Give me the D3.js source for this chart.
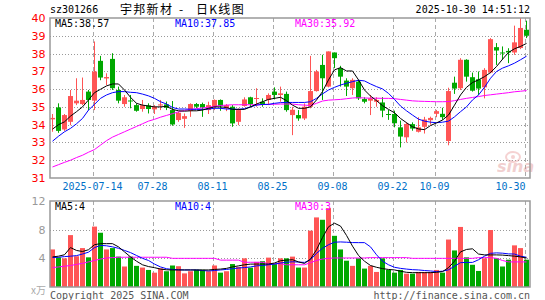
<!DOCTYPE html>
<html>
<head>
<meta charset="utf-8">
<script src="https://cdn.jsdelivr.net/npm/d3@7/dist/d3.min.js"></script>
<style>
  html, body { margin: 0; padding: 0; background: #fff; }
  svg { display: block; }
</style>
</head>
<body>
<div id="chart"></div>
<script>
'use strict';

// ─── Daily bars (2025-07-03 … 2025-10-30) ────────────────────────────────────
const OPEN  = [34.30, 34.97, 33.73, 34.16, 35.20, 35.16, 35.86, 35.35, 37.59, 36.60,
               37.70, 35.95, 35.16, 35.36, 35.10, 34.88, 35.08, 34.86, 35.08, 35.14,
               34.82, 34.26, 34.33, 34.78, 35.16, 35.16, 34.82, 35.01, 35.39, 34.92,
               35.01, 34.16, 35.05, 35.54, 35.46, 35.29, 35.39, 35.86, 35.67, 35.73,
               34.54, 34.54, 34.35, 35.01, 35.89, 37.36, 36.14, 38.06, 37.18, 36.48,
               36.05, 36.42, 35.44, 35.35, 35.29, 35.25, 34.60, 34.60, 33.85, 33.29,
               34.03, 33.60, 33.88, 34.25, 34.61, 34.61, 33.08, 36.36, 36.05, 37.65,
               36.67, 36.55, 36.10, 36.93, 38.36, 38.06, 38.15, 38.06, 38.31, 39.34];
const HIGH  = [34.60, 35.20, 34.60, 35.95, 36.61, 36.65, 35.95, 38.68, 37.87, 36.89,
               38.02, 36.14, 35.67, 35.67, 35.20, 35.39, 35.20, 35.10, 35.39, 35.30,
               35.33, 34.73, 34.63, 35.20, 35.22, 35.24, 35.29, 35.42, 35.42, 35.16,
               35.10, 34.92, 35.54, 35.57, 36.05, 35.48, 35.76, 36.10, 36.14, 35.86,
               35.00, 34.82, 35.20, 37.87, 37.08, 37.93, 38.12, 38.06, 37.31, 36.61,
               36.61, 36.52, 35.54, 35.67, 35.54, 35.55, 34.83, 34.79, 34.23, 34.13,
               34.13, 34.42, 34.44, 34.45, 34.83, 34.95, 36.08, 36.70, 37.74, 37.68,
               36.93, 36.99, 37.18, 38.87, 38.59, 38.40, 38.30, 39.57, 40.00, 39.85];
const LOW   = [33.60, 33.54, 33.65, 33.97, 35.10, 35.10, 34.82, 34.82, 36.50, 36.23,
               35.95, 35.20, 35.01, 34.92, 34.73, 34.73, 34.63, 34.60, 34.82, 34.82,
               33.94, 34.16, 33.82, 34.44, 34.92, 34.44, 34.60, 34.82, 34.78, 34.76,
               33.88, 33.97, 35.01, 34.97, 35.01, 35.01, 35.10, 35.42, 35.29, 34.73,
               33.41, 34.22, 34.26, 34.92, 35.86, 35.39, 36.10, 37.18, 36.14, 35.61,
               35.67, 35.39, 35.20, 34.54, 35.01, 34.42, 34.27, 33.85, 32.72, 33.00,
               33.66, 33.56, 33.50, 34.00, 34.42, 34.27, 32.84, 35.73, 35.95, 36.42,
               35.86, 35.65, 35.48, 36.89, 37.36, 37.65, 37.46, 37.93, 38.25, 38.87];
const CLOSE = [34.38, 33.65, 34.54, 35.61, 35.35, 35.39, 35.39, 36.99, 36.65, 36.68,
               36.05, 35.35, 35.54, 35.33, 34.78, 35.10, 34.88, 35.01, 35.14, 34.95,
               34.01, 34.67, 34.48, 35.16, 35.01, 34.97, 35.10, 35.39, 35.05, 35.10,
               34.07, 34.82, 35.42, 35.16, 35.50, 35.16, 35.67, 35.67, 35.76, 34.82,
               34.84, 34.35, 35.01, 35.89, 36.99, 36.61, 38.12, 37.74, 36.70, 36.14,
               36.52, 35.48, 35.29, 35.48, 35.39, 34.79, 34.55, 34.08, 33.33, 34.04,
               33.78, 33.85, 34.29, 34.38, 34.76, 34.42, 35.89, 36.03, 37.65, 36.70,
               35.91, 36.03, 37.08, 38.81, 38.17, 38.02, 38.06, 38.63, 39.44, 39.00];

// Price moving averages as drawn
const MA5  = [33.75, 34.00, 34.16, 34.48, 34.73, 35.00, 35.39, 35.80, 35.99, 36.18,
              36.29, 36.29, 35.95, 35.54, 35.20, 35.10, 35.05, 35.00, 35.00, 35.03,
              34.86, 34.78, 34.76, 34.78, 34.78, 34.82, 34.92, 35.00, 35.00, 34.97,
              34.86, 34.86, 34.86, 35.00, 35.16, 35.29, 35.42, 35.48, 35.54, 35.35,
              35.10, 34.92, 34.92, 35.00, 35.39, 35.86, 36.52, 37.08, 37.21, 37.02,
              37.02, 36.52, 35.95, 35.61, 35.35, 35.07, 34.86, 34.67, 34.35, 34.11,
              33.88, 33.76, 33.72, 33.95, 34.10, 34.26, 34.54, 35.10, 35.67, 36.10,
              36.37, 36.52, 36.70, 36.93, 37.27, 37.68, 38.06, 38.27, 38.40, 38.57];
const MA10 = [33.07, 33.35, 33.60, 33.79, 34.05, 34.35, 34.82, 35.14, 35.48, 35.67,
              35.80, 35.86, 35.86, 35.82, 35.80, 35.72, 35.62, 35.48, 35.29, 35.16,
              34.97, 34.88, 34.88, 34.87, 34.86, 34.86, 34.88, 34.92, 34.92, 34.88,
              34.88, 34.86, 34.90, 35.00, 35.10, 35.14, 35.14, 35.20, 35.24, 35.25,
              35.25, 35.25, 35.25, 35.29, 35.48, 35.73, 35.95, 36.10, 36.23, 36.33,
              36.42, 36.50, 36.46, 36.29, 36.14, 36.01, 35.76, 35.42, 35.05, 34.78,
              34.54, 34.31, 34.20, 34.14, 34.11, 34.14, 34.20, 34.44, 34.73, 35.00,
              35.39, 35.67, 36.10, 36.61, 36.99, 37.18, 37.31, 37.46, 37.65, 37.85];
const MA30 = [31.62, 31.75, 31.88, 32.00, 32.15, 32.28, 32.45, 32.60, 32.85, 33.10,
              33.30, 33.45, 33.60, 33.75, 33.90, 34.05, 34.20, 34.30, 34.42, 34.52,
              34.62, 34.72, 34.80, 34.86, 34.90, 34.94, 34.98, 35.03, 35.08, 35.10,
              35.12, 35.12, 35.12, 35.12, 35.12, 35.13, 35.14, 35.15, 35.16, 35.16,
              35.16, 35.12, 35.10, 35.08, 35.20, 35.33, 35.38, 35.40, 35.42, 35.46,
              35.50, 35.52, 35.50, 35.49, 35.49, 35.48, 35.48, 35.46, 35.42, 35.38,
              35.34, 35.32, 35.31, 35.30, 35.29, 35.29, 35.30, 35.35, 35.42, 35.48,
              35.53, 35.58, 35.64, 35.68, 35.72, 35.76, 35.80, 35.85, 35.88, 35.92];

// Volume, in 万 shares
const VOLUME   = [5.24, 4.14, 4.00, 7.24, 4.29, 5.43, 4.14, 8.43, 7.57, 5.24,
                  5.43, 4.24, 2.86, 4.24, 2.95, 2.71, 2.38, 2.00, 2.60, 2.20,
                  3.00, 2.90, 1.90, 2.20, 2.40, 2.40, 2.20, 3.00, 2.00, 2.20,
                  3.20, 2.80, 4.00, 2.70, 3.50, 3.60, 4.10, 3.20, 4.00, 4.00,
                  4.24, 2.71, 2.71, 7.86, 9.71, 9.38, 11.0, 7.14, 5.24, 3.67,
                  2.95, 4.00, 2.57, 2.95, 2.10, 4.00, 2.38, 2.00, 2.38, 1.86,
                  1.86, 2.10, 2.10, 2.10, 2.38, 2.00, 6.62, 5.10, 8.38, 4.14,
                  3.10, 2.24, 4.00, 7.95, 4.00, 2.86, 3.81, 5.81, 5.43, 3.81];
const VOL_MA5  = [4.20, 4.30, 4.50, 5.50, 5.10, 4.95, 5.20, 5.90, 6.05, 6.05,
                  6.05, 5.60, 4.90, 4.20, 3.60, 3.10, 2.85, 2.70, 2.50, 2.40,
                  2.38, 2.38, 2.38, 2.38, 2.38, 2.38, 2.38, 2.45, 2.50, 2.60,
                  2.80, 2.95, 3.10, 3.19, 3.20, 3.20, 3.20, 3.35, 3.67, 3.75,
                  3.81, 3.50, 3.29, 3.90, 5.20, 6.90, 8.40, 8.90, 8.50, 7.20,
                  5.70, 4.40, 3.60, 3.00, 2.75, 2.57, 2.45, 2.38, 2.20, 2.05,
                  2.00, 2.00, 2.00, 2.00, 2.05, 2.15, 2.70, 3.60, 4.90, 5.24,
                  5.33, 4.60, 4.48, 4.48, 4.48, 4.45, 4.38, 4.30, 4.20, 4.05];
const VOL_MA10 = [4.10, 4.15, 4.24, 4.30, 4.38, 4.60, 4.86, 5.50, 5.80, 5.75,
                  5.60, 5.40, 5.10, 4.80, 4.40, 4.00, 3.70, 3.20, 2.80, 2.55,
                  2.45, 2.40, 2.38, 2.38, 2.38, 2.30, 2.24, 2.30, 2.38, 2.45,
                  2.55, 2.65, 2.71, 2.80, 2.95, 3.00, 3.10, 3.20, 3.35, 3.45,
                  3.52, 3.48, 3.43, 3.80, 4.70, 5.40, 5.90, 6.25, 6.29, 6.25,
                  6.20, 6.19, 6.19, 5.60, 4.50, 3.60, 3.10, 2.75, 2.60, 2.50,
                  2.42, 2.38, 2.30, 2.24, 2.15, 2.20, 2.40, 2.90, 3.40, 3.43,
                  3.43, 3.80, 4.30, 4.70, 4.76, 4.72, 4.62, 4.60, 4.30, 4.15];
const VOL_MA30 = [2.70, 2.80, 2.90, 3.00, 3.15, 3.30, 3.50, 3.70, 3.90, 4.05,
                  4.10, 4.15, 4.15, 4.15, 4.15, 4.15, 4.15, 4.15, 4.15, 4.15,
                  4.00, 4.00, 4.00, 4.00, 4.00, 4.00, 4.00, 4.00, 3.75, 3.75,
                  3.75, 3.75, 3.45, 3.45, 3.45, 3.45, 3.25, 3.25, 3.25, 3.10,
                  3.10, 3.10, 3.10, 3.40, 3.70, 3.90, 4.00, 4.05, 4.05, 4.05,
                  4.05, 4.05, 4.05, 4.10, 4.10, 4.10, 4.10, 4.10, 4.10, 4.10,
                  4.00, 4.00, 4.00, 4.00, 4.00, 4.00, 4.00, 4.00, 4.00, 4.00,
                  4.00, 4.10, 4.10, 4.10, 4.00, 3.70, 3.50, 3.50, 3.50, 3.50];

// ─── Axis labels ─────────────────────────────────────────────────────────────
const TICK_INDEX  = [7, 17, 27, 37, 47, 57, 64, 79];
const TICK_LABELS = ['2025-07-14', '07-28', '08-11', '08-25', '09-08', '09-22', '10-09', '10-30'];
const PRICE_TICKS = [31, 32, 33, 34, 35, 36, 37, 38, 39, 40];
const VOL_TICKS   = [4, 8, 12];

// ─── Colours / fonts ─────────────────────────────────────────────────────────
const RED = '#ff5555', GREEN = '#00a800';
const C_MA5 = '#000000', C_MA10 = '#0000ff', C_MA30 = '#ff00ff';
const MONO = '"DejaVu Sans Mono", monospace';
const SANS = '"DejaVu Sans", sans-serif';
const CJK  = '"Noto Sans CJK SC", sans-serif';

// ─── Layout ──────────────────────────────────────────────────────────────────
const W = 545, H = 300;
const LEFT = 50, RIGHT = 530;
const P_TOP = 18, P_BOT = 178;
const V_TOP = 201, V_BOT = 287;

const x  = d3.scaleBand().domain(d3.range(CLOSE.length)).range([LEFT - 0.5, RIGHT - 0.5]);
const cx = i => x(i) + x.bandwidth() / 2;
const yP = d3.scaleLinear().domain([31, 40]).range([P_BOT, P_TOP]);
const yV = d3.scaleLinear().domain([0, 12]).range([V_BOT, V_TOP]);
const isUp = i => CLOSE[i] >= OPEN[i];

const svg = d3.select('#chart').append('svg').attr('width', W).attr('height', H);

// ─── Header ──────────────────────────────────────────────────────────────────
svg.append('text').attr('x', 50).attr('y', 13)
  .style('font', `10px ${MONO}`).attr('fill', '#000').text('sz301266');
const title = svg.append('text').attr('y', 14)
  .style('font', `12px ${CJK}`).style('letter-spacing', '1.3px').attr('fill', '#000');
title.append('tspan').attr('x', 120).text('宇邦新材');
title.append('tspan').attr('x', 179).text('-');
title.append('tspan').attr('x', 196).text('日K线图');
svg.append('text').attr('x', 530).attr('y', 13).attr('text-anchor', 'end')
  .style('font', `10px ${MONO}`).attr('fill', '#000').text('2025-10-30 14:51:12');

// ─── Grid helpers ────────────────────────────────────────────────────────────
function drawGrid(top, bot, hLines, yScale) {
  const g = svg.append('g');
  hLines.forEach(v => {
    g.append('line')
      .attr('x1', LEFT).attr('x2', RIGHT)
      .attr('y1', Math.round(yScale(v)) + 0.5).attr('y2', Math.round(yScale(v)) + 0.5)
      .attr('stroke', '#999').attr('stroke-dasharray', '1,2');
  });
  TICK_INDEX.forEach(i => {
    const gx = Math.round(x(i) + 1) + 0.5;
    g.append('line')
      .attr('x1', gx).attr('x2', gx).attr('y1', top).attr('y2', bot)
      .attr('stroke', '#aaa').attr('stroke-dasharray', '4,3');
  });
}

drawGrid(P_TOP, P_BOT, PRICE_TICKS.filter(v => v > 31 && v < 40), yP);
drawGrid(V_TOP, V_BOT, VOL_TICKS.filter(v => v < 12), yV);

// ─── Watermark ───────────────────────────────────────────────────────────────
const wm = svg.append('g').attr('opacity', 0.4);
wm.append('ellipse').attr('cx', 513).attr('cy', 157).attr('rx', 7).attr('ry', 5)
  .attr('fill', 'none').attr('stroke', '#e89090').attr('stroke-width', 2);
wm.append('circle').attr('cx', 513).attr('cy', 157).attr('r', 2).attr('fill', '#e89090');
wm.append('text').attr('x', 497).attr('y', 172)
  .style('font', `italic bold 16px ${SANS}`).attr('fill', '#d88').text('sina');

// ─── Candles ─────────────────────────────────────────────────────────────────
const candles = svg.append('g');
CLOSE.forEach((c, i) => {
  const col = isUp(i) ? RED : GREEN;
  candles.append('line')
    .attr('x1', cx(i)).attr('x2', cx(i))
    .attr('y1', yP(HIGH[i])).attr('y2', yP(LOW[i]))
    .attr('stroke', col);
  const top = yP(Math.max(OPEN[i], c));
  const h = Math.max(1, Math.abs(yP(OPEN[i]) - yP(c)));
  candles.append('rect')
    .attr('x', x(i) + 0.5).attr('width', x.bandwidth() - 1)
    .attr('y', top).attr('height', h)
    .attr('fill', col);
});

// ─── Volume bars ─────────────────────────────────────────────────────────────
svg.append('g').selectAll('rect')
  .data(VOLUME)
  .join('rect')
  .attr('x', (d, i) => x(i) + 0.5)
  .attr('width', x.bandwidth() - 1)
  .attr('y', d => yV(d))
  .attr('height', d => V_BOT - yV(d))
  .attr('fill', (d, i) => isUp(i) ? RED : GREEN);

// ─── MA lines ────────────────────────────────────────────────────────────────
function drawLine(values, yScale, color) {
  const line = d3.line().x((d, i) => cx(i)).y(d => yScale(d));
  svg.append('path').datum(values)
    .attr('d', line).attr('fill', 'none')
    .attr('stroke', color).attr('stroke-width', 1);
}
drawLine(MA30, yP, C_MA30);
drawLine(MA10, yP, C_MA10);
drawLine(MA5,  yP, C_MA5);
drawLine(VOL_MA30, yV, C_MA30);
drawLine(VOL_MA10, yV, C_MA10);
drawLine(VOL_MA5,  yV, C_MA5);

// ─── Frames ──────────────────────────────────────────────────────────────────
[[P_TOP, P_BOT], [V_TOP, V_BOT]].forEach(([t, b]) => {
  svg.append('rect')
    .attr('x', LEFT).attr('y', t).attr('width', RIGHT - LEFT).attr('height', b - t)
    .attr('fill', 'none').attr('stroke', '#999').attr('stroke-width', 1.5);
});

// ─── Legends ─────────────────────────────────────────────────────────────────
const last = a => a[a.length - 1];
[
  [55, 27, `MA5:${last(MA5).toFixed(2)}`, C_MA5],
  [175, 27, `MA10:${last(MA10).toFixed(2)}`, C_MA10],
  [295, 27, `MA30:${last(MA30).toFixed(2)}`, C_MA30],
  [55, 210, `MA5:${Math.floor(last(VOL_MA5))}`, C_MA5],
  [175, 210, `MA10:${Math.floor(last(VOL_MA10))}`, C_MA10],
  [295, 210, `MA30:${Math.floor(last(VOL_MA30))}`, C_MA30],
].forEach(([lx, ly, txt, col]) => {
  svg.append('text').attr('x', lx).attr('y', ly)
    .style('font', `10px ${MONO}`).attr('fill', col).text(txt);
});

// ─── Axes ────────────────────────────────────────────────────────────────────
const priceAxis = d3.axisLeft(yP).tickValues(PRICE_TICKS).tickSize(0).tickPadding(4);
svg.append('g').attr('transform', `translate(${LEFT - 0.5},0)`).call(priceAxis)
  .call(g => g.select('.domain').remove())
  .call(g => g.selectAll('text').attr('fill', '#ff0000').style('font', `11px ${SANS}`));

const volAxis = d3.axisLeft(yV).tickValues(VOL_TICKS).tickSize(0).tickPadding(4);
svg.append('g').attr('transform', `translate(${LEFT - 0.5},0)`).call(volAxis)
  .call(g => g.select('.domain').remove())
  .call(g => g.selectAll('text').attr('fill', '#999').style('font', `11px ${SANS}`));
svg.append('text').attr('x', 46).attr('y', 294).attr('text-anchor', 'end')
  .style('font', `10px ${CJK}`).attr('fill', '#aaa').text('x万');

TICK_INDEX.forEach((i, k) => {
  const gx = Math.round(x(i) + 1) + 0.5;
  const isLast = k === TICK_INDEX.length - 1;
  svg.append('text')
    .attr('x', isLast ? gx : gx - 1)
    .attr('y', 190)
    .attr('text-anchor', isLast ? 'end' : 'middle')
    .style('font', `10px ${MONO}`)
    .attr('fill', '#0070c8')
    .text(TICK_LABELS[k]);
});

// ─── Footer ──────────────────────────────────────────────────────────────────
svg.append('text').attr('x', 50).attr('y', 299)
  .style('font', `10px ${MONO}`).attr('fill', '#555').text('Copyright 2025 SINA.COM');
svg.append('text').attr('x', 530).attr('y', 299).attr('text-anchor', 'end')
  .style('font', `10px ${MONO}`).attr('fill', '#555').text('http://finance.sina.com.cn');
</script>
</body>
</html>
